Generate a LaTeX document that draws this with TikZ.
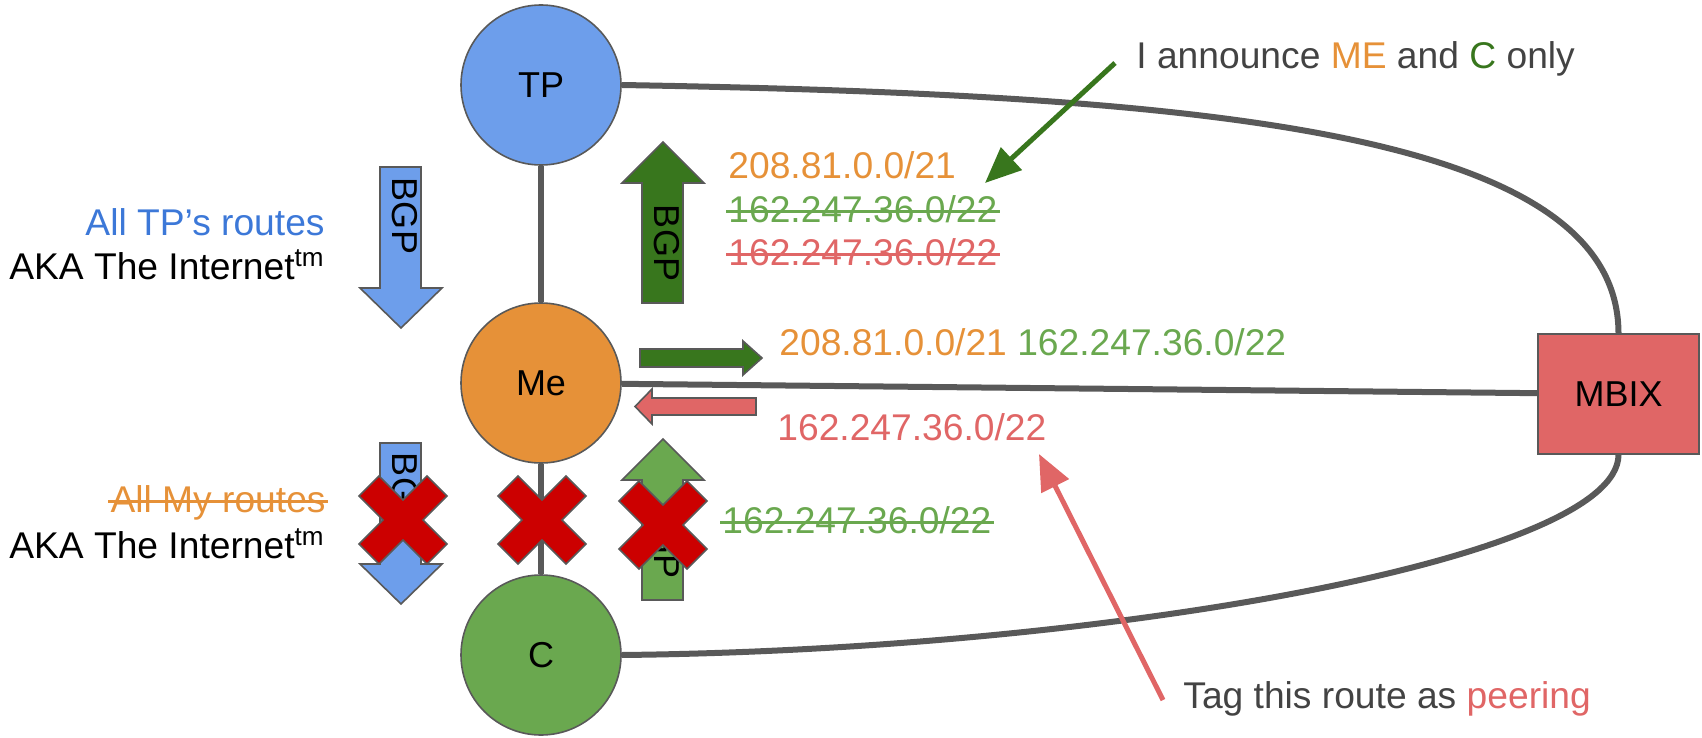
\documentclass[tikz,border=0pt]{standalone}
\usepackage{fontspec}
\setmainfont{Liberation Sans}
\usepackage{xcolor}
\usepackage{tikz}
\usetikzlibrary{arrows.meta}

\definecolor{edgegray}{HTML}{595959}
\definecolor{textgray}{HTML}{434343}
\definecolor{tpblue}{HTML}{6D9EEB}
\definecolor{tptext}{HTML}{3C78D8}
\definecolor{meorange}{HTML}{E69138}
\definecolor{cgreen}{HTML}{6AA84F}
\definecolor{darkgreen}{HTML}{38761D}
\definecolor{ixred}{HTML}{E06666}
\definecolor{xred}{HTML}{CC0000}

\tikzset{
  redx/.pic={
    \draw[fill=xred, draw=edgegray, line width=0.8pt] (0,-20) -- (24,-44) -- (44,-24) -- (20,0) -- (44,24) -- (24,44) -- (0,20) -- (-24,44) -- (-44,24) -- (-20,0) -- (-44,-24) -- (-24,-44) -- cycle;
  }
}

\begin{document}
\begin{tikzpicture}[x=0.5pt, y=-0.5pt,
  link/.style={draw=edgegray, line width=3pt},
  site/.style={circle, draw=edgegray, line width=0.8pt, minimum size=80pt, inner sep=0pt, font=\fontsize{18}{22}\selectfont},
  ixbox/.style={rectangle, draw=edgegray, fill=ixred, line width=0.8pt, minimum width=80.5pt, minimum height=60pt, font=\fontsize{18}{22}\selectfont},
  blockarrow/.style={draw=edgegray, line width=0.8pt},
  bgp/.style={rotate=-90, inner sep=0pt, font=\fontsize{18}{18}\selectfont},
  lbl/.style={inner sep=0pt, font=\fontsize{18.6}{22}\selectfont},
  strike/.style={line width=1.5pt},
  pointer/.style={line width=2.5pt, -{Triangle[length=18pt, width=15pt]}}]
\useasboundingbox (0,0) rectangle (1702,738);

% routers and the exchange
\node[site, fill=tpblue] (TP) at (541,85) {TP};
\node[site, fill=meorange] (Me) at (541,383) {Me};
\node[site, fill=cgreen] (C) at (541,655) {C};
\node[ixbox] (MBIX) at (1618.5,394) {MBIX};

\draw[link] (TP) -- (Me);
\draw[link] (Me) -- (C);
\draw[link] (Me) -- (MBIX);
\draw[link] (TP.east) .. controls (1200,95) and (1618,130) .. (MBIX.north);
\draw[link] (C.east) .. controls (1100,650) and (1618,560) .. (MBIX.south);

% BGP block arrows
\draw[blockarrow, fill=tpblue] (380,167) -- (421,167) -- (421,288) -- (442,288) -- (401,328) -- (360,288) -- (380,288) -- cycle;
\draw[blockarrow, fill=tpblue] (380,443) -- (421,443) -- (421,564) -- (442,564) -- (401,604) -- (360,564) -- (380,564) -- cycle;
\draw[blockarrow, fill=darkgreen] (642,303) -- (683,303) -- (683,183) -- (704,183) -- (663,142) -- (622,183) -- (642,183) -- cycle;
\draw[blockarrow, fill=cgreen] (642,600) -- (683,600) -- (683,480) -- (704,480) -- (663,439) -- (622,480) -- (642,480) -- cycle;
\draw[blockarrow, fill=darkgreen] (640,349) -- (743,349) -- (743,341) -- (762,358) -- (743,375) -- (743,367) -- (640,367) -- cycle;
\draw[blockarrow, fill=ixred] (756,398) -- (652,398) -- (652,389) -- (635,406.5) -- (652,424) -- (652,415) -- (756,415) -- cycle;

\node[bgp] (bgpDown) at (405,216) {BGP};
\node[bgp] (bgpUp) at (667,243) {BGP};
\node[bgp] (bgpDownX) at (405,491) {BGP};
\node[bgp] (bgpUpX) at (667,540) {BGP};

% left labels
\node[lbl, anchor=base east, text=tptext] (tpRoutes) at (325,235) {All TP’s routes};
\node[lbl, anchor=base east] (akaTop) at (325,279) {AKA The Internet\textsuperscript{tm}};
\node[lbl, anchor=base east, text=meorange] (myRoutes) at (326,512) {All My routes};
\node[lbl, anchor=base east] (akaLow) at (325,558) {AKA The Internet\textsuperscript{tm}};

% prefixes
\node[lbl, anchor=base west, text=meorange] (pfxMe) at (728,178) {208.81.0.0/21};
\node[lbl, anchor=base west, text=cgreen] (pfxC) at (728,222) {162.247.36.0/22};
\node[lbl, anchor=base west, text=ixred] (pfxPeer) at (728,265) {162.247.36.0/22};
\node[lbl, anchor=base west] (pfxOut) at (779,355) {\textcolor{meorange}{208.81.0.0/21} \textcolor{cgreen}{162.247.36.0/22}};
\node[lbl, anchor=base west, text=ixred] (pfxIn) at (777,440) {162.247.36.0/22};
\node[lbl, anchor=base west, text=cgreen] (pfxLow) at (722,533) {162.247.36.0/22};

% withdrawn routes
\draw[strike, meorange] ([xshift=-1pt, yshift=5.4pt]myRoutes.base west) -- ([xshift=1pt, yshift=5.4pt]myRoutes.base east);
\draw[strike, cgreen] ([xshift=-1pt, yshift=5.4pt]pfxC.base west) -- ([xshift=1pt, yshift=5.4pt]pfxC.base east);
\draw[strike, ixred] ([xshift=-1pt, yshift=5.4pt]pfxPeer.base west) -- ([xshift=1pt, yshift=5.4pt]pfxPeer.base east);
\draw[strike, cgreen] ([xshift=-1pt, yshift=5.4pt]pfxLow.base west) -- ([xshift=1pt, yshift=5.4pt]pfxLow.base east);

% notes
\node[lbl, anchor=base west, text=textgray] (announce) at (1136,69) {I announce \textcolor{meorange}{ME} and \textcolor{darkgreen}{C} only};
\node[lbl, anchor=base west, text=textgray] (tagNote) at (1183,708) {Tag this route as \textcolor{ixred}{peering}};

\coordinate (annTail) at (1115,63);
\coordinate (annTip) at (985,183);
\coordinate (tagTail) at (1163,700);
\coordinate (tagTip) at (1039,454);
\draw[pointer, darkgreen] (annTail) -- (annTip);
\draw[pointer, ixred] (tagTail) -- (tagTip);

% blocked sessions
\pic at (403,520) {redx};
\pic at (542,520) {redx};
\pic at (663,525) {redx};
\end{tikzpicture}
\end{document}
